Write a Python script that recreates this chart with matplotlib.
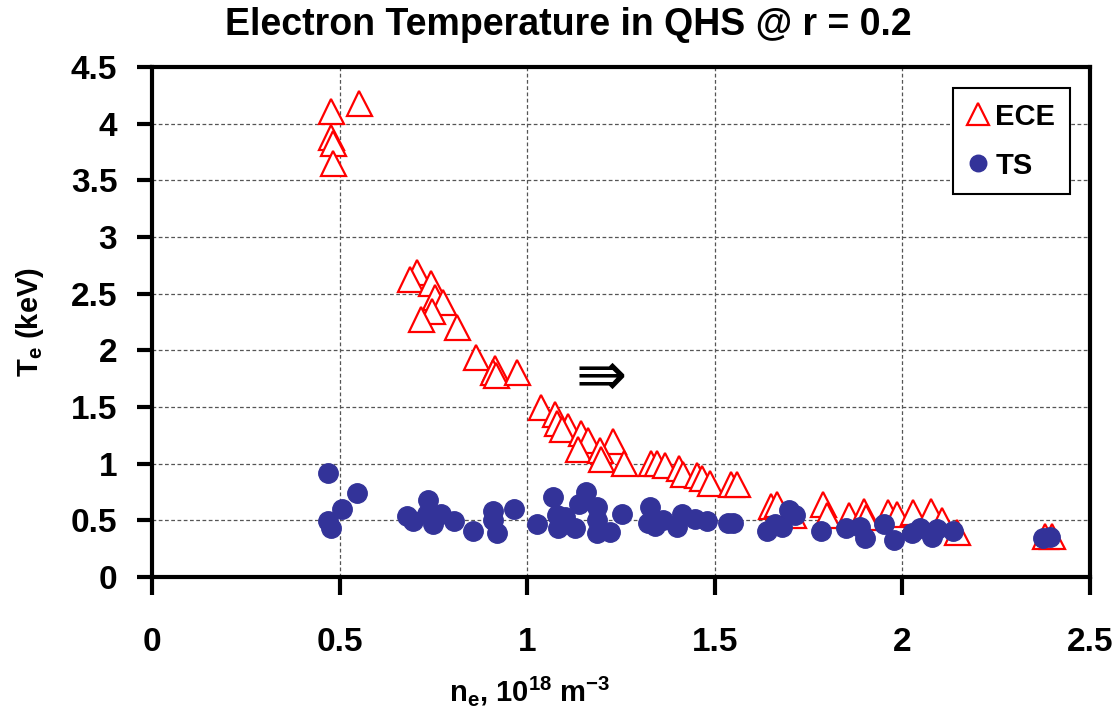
import numpy as np
import matplotlib
matplotlib.use("Agg")
import matplotlib.pyplot as plt

plt.rcParams['font.family'] = ['Liberation Sans', 'DejaVu Sans']
plt.rcParams['font.weight'] = 'bold'
plt.rcParams['mathtext.fontset'] = 'custom'
plt.rcParams['mathtext.rm'] = 'Liberation Sans:bold'
plt.rcParams['mathtext.bf'] = 'Liberation Sans:bold'
plt.rcParams['mathtext.default'] = 'bf'

# --- ECE data (ne in 1e18 m^-3, Te in keV) ---
ece_ne = [0.476, 0.553, 0.476, 0.482, 0.482,
          0.705, 0.688, 0.744, 0.754, 0.776, 0.745, 0.717, 0.814, 0.864,
          0.914, 0.910, 0.918, 0.972,
          1.036, 1.074, 1.110, 1.080, 1.093, 1.143, 1.163, 1.136, 1.228,
          1.194, 1.197, 1.259, 1.329, 1.347, 1.367, 1.405, 1.414, 1.453,
          1.465, 1.487, 1.542, 1.560,
          1.649, 1.667, 1.709, 1.788, 1.800, 1.859, 1.898, 1.903, 1.961,
          1.985, 2.029, 2.075, 2.105, 2.145, 2.380, 2.398]
ece_te = [4.11, 4.18, 3.88, 3.83, 3.65,
          2.69, 2.63, 2.59, 2.47, 2.43, 2.35, 2.28, 2.21, 1.94,
          1.84, 1.81, 1.78, 1.81,
          1.50, 1.44, 1.33, 1.36, 1.31, 1.27, 1.21, 1.13, 1.20,
          1.12, 1.04, 1.01, 1.01, 1.01, 0.99, 0.96, 0.91, 0.90,
          0.87, 0.83, 0.82, 0.82,
          0.63, 0.64, 0.55, 0.64, 0.55, 0.55, 0.58, 0.53, 0.57,
          0.56, 0.57, 0.58, 0.50, 0.40, 0.36, 0.36]

# --- Thomson scattering data ---
ts_ne = [0.468, 0.546, 0.507, 0.468, 0.476,
         0.679, 0.697, 0.735, 0.732, 0.748, 0.769, 0.806, 0.856,
         0.908, 0.908, 0.919, 0.965,
         1.027, 1.068, 1.079, 1.083, 1.101, 1.127, 1.138, 1.157, 1.187,
         1.185, 1.185, 1.221, 1.252, 1.327, 1.323, 1.341, 1.363, 1.412,
         1.398, 1.447, 1.478, 1.536, 1.549,
         1.638, 1.660, 1.678, 1.699, 1.714, 1.783, 1.851, 1.887, 1.900,
         1.951, 1.978, 2.025, 2.047, 2.078, 2.091, 2.136, 2.376, 2.393]
ts_te = [0.915, 0.744, 0.60, 0.49, 0.43,
         0.54, 0.49, 0.68, 0.56, 0.47, 0.56, 0.49, 0.41,
         0.58, 0.50, 0.39, 0.60,
         0.47, 0.71, 0.55, 0.43, 0.53, 0.43, 0.64, 0.75, 0.62,
         0.50, 0.39, 0.40, 0.56, 0.62, 0.48, 0.45, 0.50, 0.56,
         0.44, 0.51, 0.49, 0.48, 0.48,
         0.41, 0.47, 0.44, 0.59, 0.55, 0.41, 0.43, 0.44, 0.34,
         0.47, 0.33, 0.39, 0.43, 0.35, 0.42, 0.41, 0.34, 0.35]

x_ticks = [0, 0.5, 1, 1.5, 2, 2.5]
x_labels = ['0', '0.5', '1', '1.5', '2', '2.5']
y_ticks = [0, 0.5, 1, 1.5, 2, 2.5, 3, 3.5, 4, 4.5]
y_labels = ['0', '0.5', '1', '1.5', '2', '2.5', '3', '3.5', '4', '4.5']

fig = plt.figure(figsize=(11.2, 7.2), dpi=100)
ax = fig.add_axes([0.1357, 0.1986, 0.8375, 0.7083])

ax.plot(ece_ne, ece_te, linestyle='none', marker='^', markersize=18,
        markerfacecolor='white', markeredgecolor='#ff0000',
        markeredgewidth=1.6, label='ECE')
ax.plot(ts_ne, ts_te, linestyle='none', marker='o', markersize=14,
        markerfacecolor='#333399', markeredgecolor='#333399',
        label='TS')

ax.set_xlim(0, 2.5)
ax.set_ylim(0, 4.5)
ax.set_xticks(x_ticks)
ax.set_xticklabels(x_labels)
ax.set_yticks(y_ticks)
ax.set_yticklabels(y_labels)
ax.tick_params(axis='x', direction='out', length=13, width=3, pad=23, labelsize=24)
ax.tick_params(axis='y', direction='out', length=11, width=3, pad=14, labelsize=24)
for lab in ax.get_xticklabels() + ax.get_yticklabels():
    lab.set_fontweight('bold')
for sp in ax.spines.values():
    sp.set_linewidth(3)
    sp.set_color('black')

ax.grid(True, color='#555555', linestyle=(0, (3, 2)), linewidth=0.9)
ax.set_axisbelow(True)

# direction arrow
ax.text(1.197, 1.75, '\u21db', family=['DejaVu Sans'], fontsize=44,
        ha='center', va='center', fontweight='normal')

leg = ax.legend(loc='upper right', bbox_to_anchor=(0.9787, 0.959),
                borderaxespad=0, fontsize=21, frameon=True, fancybox=False,
                framealpha=1, edgecolor='black', handlelength=0.7,
                handletextpad=0.25, labelspacing=0.72, borderpad=0.5,
                markerscale=0.85)
leg.get_frame().set_linewidth(1.5)
for t in leg.get_texts():
    t.set_fontweight('bold')

fig.text(0.507, 0.965, 'Electron Temperature in QHS @ r = 0.2',
         ha='center', va='center', fontsize=27, fontweight='bold')
fig.text(0.473, 0.04, r'n$_\mathbf{e}$, 10$^\mathbf{18}$ m$^\mathbf{-3}$',
         ha='center', va='center', fontsize=21, fontweight='bold')
fig.text(0.027, 0.553, r'T$_\mathbf{e}$ (keV)', rotation=90,
         ha='center', va='center', fontsize=21, fontweight='bold')

fig.savefig('out.png', dpi=100)
